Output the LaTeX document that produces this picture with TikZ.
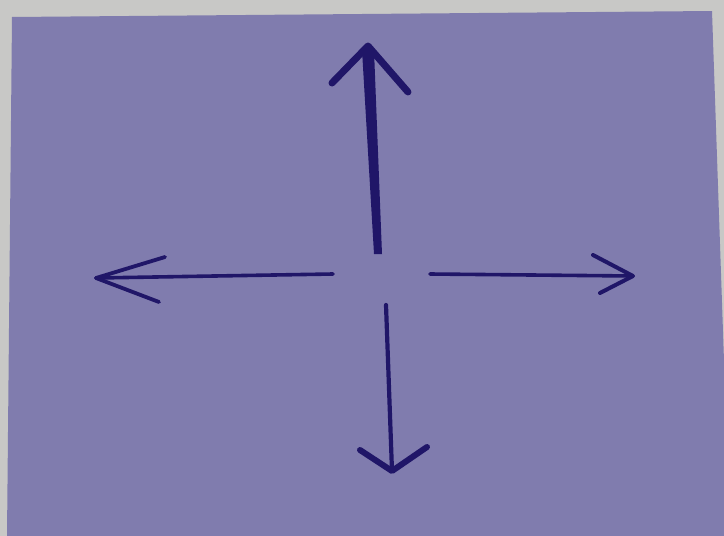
\documentclass[tikz,border=0pt]{standalone}
\begin{document}
\begin{tikzpicture}[x=1pt,y=-1pt,
  pen/.style={draw=ink,line cap=round,line join=round},
  ]
\definecolor{paper}{RGB}{200,200,198}
\definecolor{card}{RGB}{128,124,174}
\definecolor{ink}{RGB}{32,22,104}
\fill[paper] (0,0) rectangle (724,536);
\useasboundingbox (0,0) rectangle (724,536);
\fill[card] (12,17) -- (712,11) -- (730,536) -- (7,536) -- cycle;
% up arrow
\coordinate (ub) at (378,252);
\coordinate (ut) at (368,46);
\coordinate (ul) at (332,83);
\coordinate (ur) at (408,92);
\fill[ink] (374,254) -- (382,254) -- (374,50) -- (362,50) -- cycle;
\draw[pen,line width=7pt] (ul) -- (ut) -- (ur);
% left arrow
\coordinate (lb) at (333,274);
\coordinate (lt) at (96,278);
\coordinate (lu) at (165,257);
\coordinate (ll) at (159,302);
\draw[pen,line width=3.6pt] (lb) -- (lt);
\draw[pen,line width=3.8pt] (lu) -- (lt) -- (ll);
% right arrow
\coordinate (rb) at (430,274);
\coordinate (rt) at (633,276);
\coordinate (ru) at (593,255);
\coordinate (rl) at (600,293);
\draw[pen,line width=3.6pt] (rb) -- (rt);
\draw[pen,line width=4pt] (ru) -- (rt) -- (rl);
% down arrow
\coordinate (db) at (386,305);
\coordinate (dt) at (392,471);
\coordinate (dl) at (360,450);
\coordinate (dr) at (427,447);
\draw[pen,line width=4.2pt] (db) -- (dt);
\draw[pen,line width=6pt] (dl) -- (dt) -- (dr);
\end{tikzpicture}
\end{document}
